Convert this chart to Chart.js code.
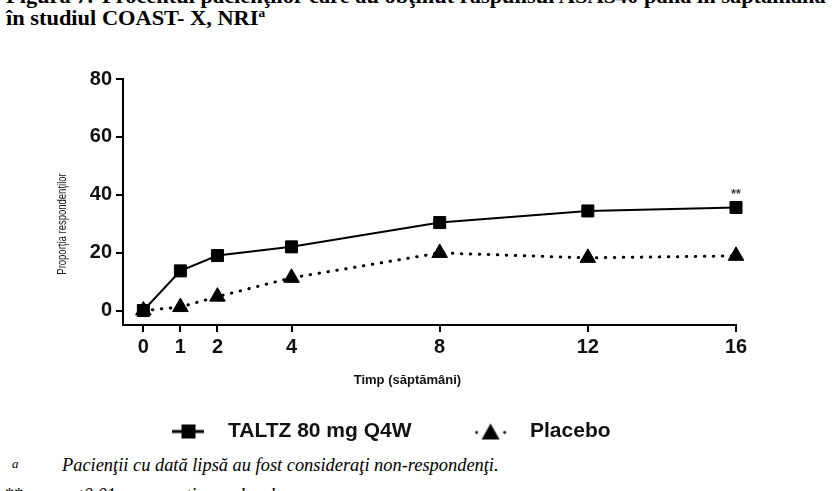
<!DOCTYPE html>
<html>
<head>
<meta charset="utf-8">
<script src="https://cdn.jsdelivr.net/npm/chart.js@4.4.0/dist/chart.umd.min.js"></script>
<style>
  body { margin: 0; width: 832px; height: 491px; overflow: hidden; position: relative; background: #fff; font-family: "Liberation Serif", "Times New Roman", serif; color: #000; }
  .cap { position: absolute; font-weight: bold; font-size: 20px; line-height: 21px; white-space: nowrap; transform: scaleX(1.12); transform-origin: left top; }
  .note { position: absolute; font-style: italic; font-size: 18.4px; line-height: 21px; white-space: nowrap; }
  #wrap { position: absolute; left: 0; top: 0; width: 832px; height: 491px; }
</style>
</head>
<body>
<div class="cap" style="left:6px;top:-14px">Figura 7.</div>
<div class="cap" style="left:102px;top:-14px">Procentul pacienţilor care au obţinut răspunsul ASAS40 până în săptămâna 16</div>
<div class="cap" style="left:6px;top:8px">în studiul COAST- X, NRI<sup style="font-size:12px;line-height:0">a</sup></div>
<div class="note" style="left:12px;top:453px;font-size:13px">a</div>
<div class="note" style="left:62px;top:455px">Pacienţii cu dată lipsă au fost consideraţi non-respondenţi.</div>
<div class="note" style="left:4px;top:485px">**</div>
<div class="note" style="left:62px;top:485px">p&lt;0,01 comparativ cu placebo.</div>
<div id="wrap"><canvas id="chart"></canvas></div>
<script>
// values
const weeks = [0, 1, 2, 4, 8, 12, 16];
const taltz = [0, 13.7, 19.0, 22.0, 30.4, 34.4, 35.6];
const placebo = [0, 1.2, 4.8, 11.3, 19.9, 18.2, 18.9];
const yTicks = [0, 20, 40, 60, 80];
const seriesNames = ["TALTZ 80 mg Q4W", "Placebo"];

const tickFont = { family: "'Liberation Sans', Arial, sans-serif", size: 20, weight: "bold" };

// legend markers: line with symbol on top
function legendMarker(kind) {
    const c = document.createElement("canvas");
    c.width = 32; c.height = 18;
    const g = c.getContext("2d");
    g.fillStyle = "#000";
    g.strokeStyle = "#000";
    if (kind === "square") {
        g.lineWidth = 3;
        g.beginPath(); g.moveTo(0, 9); g.lineTo(32, 9); g.stroke();
        g.fillRect(9, 2, 14, 14);
    } else {
        g.beginPath(); g.arc(2, 10, 1.4, 0, Math.PI * 2); g.fill();
        g.beginPath(); g.arc(30, 10, 1.4, 0, Math.PI * 2); g.fill();
        g.beginPath(); g.moveTo(16, 1); g.lineTo(25, 17); g.lineTo(7, 17); g.closePath(); g.fill();
    }
    return c;
}
const markers = [legendMarker("square"), legendMarker("triangle")];

// axis titles, and the ** mark over the last TALTZ point
const extras = {
    id: "extras",
    afterDatasetsDraw(chart) {
        const ctx = chart.ctx;
        const area = chart.chartArea;
        ctx.save();
        ctx.fillStyle = "#111";
        ctx.textAlign = "center";
        ctx.textBaseline = "middle";
        ctx.font = "bold 13px 'Liberation Sans', Arial, sans-serif";
        ctx.fillText("Timp (săptămâni)", area.left + area.width * 0.464, 380);

        ctx.translate(62, 224);
        ctx.rotate(-Math.PI / 2);
        ctx.scale(0.95, 1.3);
        ctx.font = "10px 'Liberation Sans', Arial, sans-serif";
        ctx.fillText("Proporţia respondenţilor", 0, 0);
        ctx.restore();

        const pts = chart.getDatasetMeta(0).data;
        const last = pts[pts.length - 1];
        ctx.save();
        ctx.fillStyle = "#333";
        ctx.textAlign = "center";
        ctx.font = "bold 12px 'Liberation Sans', Arial, sans-serif";
        ctx.fillText("**", last.x, last.y - 13);
        ctx.restore();
    }
};

const chart = new Chart(document.getElementById("chart"), {
    type: "line",
    data: {
        datasets: [{
            label: seriesNames[0],
            data: weeks.map((w, i) => ({ x: w, y: taltz[i] })),
            borderColor: "#000",
            backgroundColor: "#000",
            borderWidth: 2,
            pointStyle: "rect",
            pointRadius: 8.5,
            pointBorderWidth: 1,
            tension: 0,
            clip: false
        }, {
            label: seriesNames[1],
            data: weeks.map((w, i) => ({ x: w, y: placebo[i] })),
            borderColor: "#000",
            backgroundColor: "#000",
            borderWidth: 3,
            borderDash: [0.5, 8.5],
            borderCapStyle: "round",
            pointStyle: "triangle",
            pointRadius: 9,
            pointBorderWidth: 1,
            tension: 0,
            clip: false
        }]
    },
    options: {
        responsive: true,
        maintainAspectRatio: false,
        animation: false,
        layout: { padding: { left: 34, right: 96, top: 79, bottom: 39 } },
        scales: {
            x: {
                type: "linear",
                min: -0.55,
                max: 16,
                afterBuildTicks: (scale) => { scale.ticks = weeks.map(v => ({ value: v })); },
                afterFit: (scale) => { scale.height = 46; },
                ticks: { color: "#111", font: tickFont, padding: 3, autoSkip: false, maxRotation: 0 },
                grid: { drawOnChartArea: false, drawTicks: true, tickLength: 7, color: "#000", lineWidth: 2 },
                border: { display: true, color: "#000", width: 2 }
            },
            y: {
                min: -5,
                max: 80,
                afterBuildTicks: (scale) => { scale.ticks = yTicks.map(v => ({ value: v })); },
                afterFit: (scale) => { scale.width = 89; },
                ticks: { color: "#111", font: tickFont, padding: 4 },
                grid: { drawOnChartArea: false, drawTicks: true, tickLength: 7, color: "#000", lineWidth: 2 },
                border: { display: true, color: "#000", width: 2 }
            }
        },
        plugins: {
            legend: {
                position: "bottom",
                labels: {
                    color: "#111",
                    font: { family: "'Liberation Sans', Arial, sans-serif", size: 21, weight: "bold" },
                    usePointStyle: true,
                    pointStyleWidth: 58,
                    padding: 50,
                    generateLabels: (chart) => Chart.defaults.plugins.legend.labels.generateLabels(chart)
                        .map((item, i) => Object.assign(item, { pointStyle: markers[i] }))
                }
            },
            tooltip: { enabled: false }
        }
    },
    plugins: [extras]
});
</script>
</body>
</html>
